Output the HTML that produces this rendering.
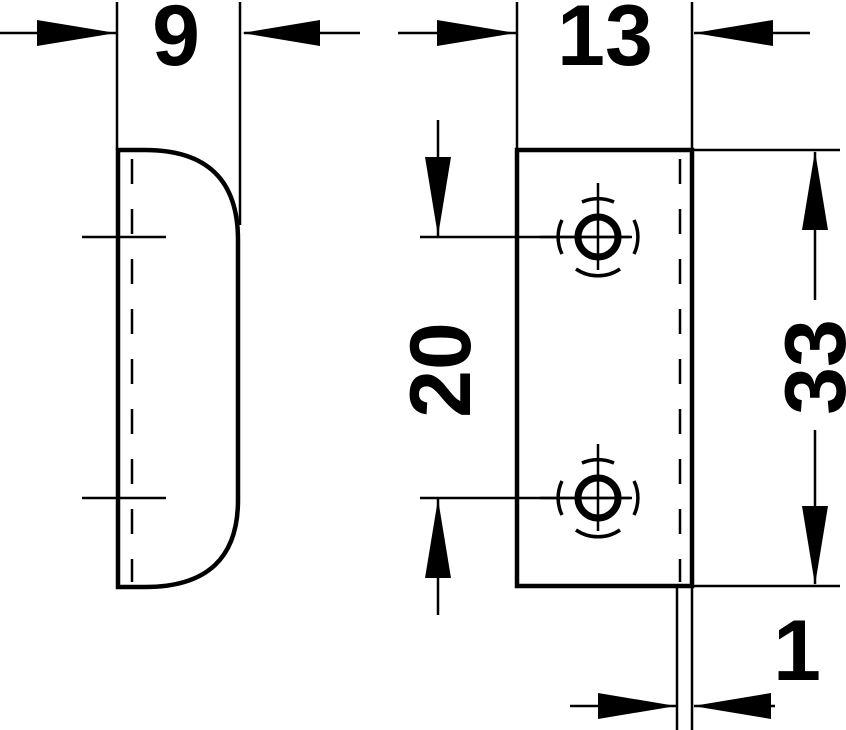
<!DOCTYPE html>
<html><head><style>html,body{margin:0;padding:0;background:#fff}svg{display:block}</style></head>
<body>
<svg width="846" height="730" viewBox="0 0 846 730" xmlns="http://www.w3.org/2000/svg" font-family="Liberation Sans, sans-serif" font-weight="bold">
<g stroke="#000" fill="none" stroke-width="2.5">
 <line x1="117" y1="2" x2="117" y2="150"/>
 <line x1="240" y1="2" x2="240" y2="225"/>
 <line x1="0" y1="33" x2="116" y2="33"/>
 <line x1="244" y1="33" x2="360" y2="33"/>
 <line x1="82" y1="237" x2="166" y2="237"/>
 <line x1="82" y1="498" x2="166" y2="498"/>
 <line x1="132" y1="155" x2="132" y2="582" stroke-dasharray="25,25" stroke-dashoffset="-4"/>
 <path d="M118 150 H145 Q238 150 238 240 V500 Q238 587 145 587 H118 Z" stroke-width="4.5"/>
 <line x1="517" y1="2" x2="517" y2="150"/>
 <line x1="692" y1="2" x2="692" y2="150"/>
 <line x1="398" y1="33" x2="516" y2="33"/>
 <line x1="694" y1="33" x2="810" y2="33"/>
 <line x1="692" y1="150" x2="840" y2="150"/>
 <line x1="692" y1="586" x2="840" y2="586"/>
 <line x1="815" y1="152" x2="815" y2="300"/>
 <line x1="815" y1="430" x2="815" y2="584"/>
 <line x1="420" y1="237" x2="630" y2="237"/>
 <line x1="420" y1="498" x2="630" y2="498"/>
 <line x1="438" y1="120" x2="438" y2="236"/>
 <line x1="438" y1="499" x2="438" y2="615"/>
 <line x1="677" y1="586" x2="677" y2="730"/>
 <line x1="692" y1="586" x2="692" y2="730"/>
 <line x1="570" y1="706" x2="676" y2="706"/>
 <line x1="694" y1="706" x2="775" y2="706"/>
 <rect x="517" y="150" width="175" height="436" stroke-width="4.5"/>
 <line x1="680" y1="155" x2="680" y2="582" stroke-dasharray="25,25" stroke-dashoffset="-4"/>
 <g id="s">
  <line x1="598" y1="183" x2="598" y2="270"/>
  <line x1="540" y1="237" x2="632" y2="237"/>
  <circle cx="598" cy="237" r="20" stroke-width="7"/>
  <path d="M582 202 A39 39 0 0 1 614 202" stroke-width="3.5"/>
  <path d="M576 269 A39 39 0 0 0 620 269" stroke-width="3.5"/>
  <path d="M562 220 A39 39 0 0 0 562 254" stroke-width="3.5"/>
  <path d="M634 220 A39 39 0 0 1 634 254" stroke-width="3.5"/>
 </g>
 <use href="#s" y="261"/>
</g>
<g fill="#000">
 <polygon points="116,33 37,20 37,46"/>
 <polygon points="242,33 320,20 320,46"/>
 <polygon points="516,33 437,20 437,46"/>
 <polygon points="694,33 773,20 773,46"/>
 <polygon points="815,151 802,230 828,230"/>
 <polygon points="815,585 802,506 828,506"/>
 <polygon points="438,236 425,157 451,157"/>
 <polygon points="438,499 425,578 451,578"/>
 <polygon points="676,706 598,693 598,719"/>
 <polygon points="693,706 771,693 771,719"/>
 <text x="176" y="65" font-size="86" text-anchor="middle">9</text>
 <text x="605" y="65" font-size="86" text-anchor="middle">13</text>
 <text x="797" y="680" font-size="86" text-anchor="middle">1</text>
 <text transform="translate(845,367) rotate(-90)" font-size="86" text-anchor="middle">33</text>
 <text transform="translate(470,370) rotate(-90)" font-size="86" text-anchor="middle">20</text>
</g>
</svg>
</body></html>
